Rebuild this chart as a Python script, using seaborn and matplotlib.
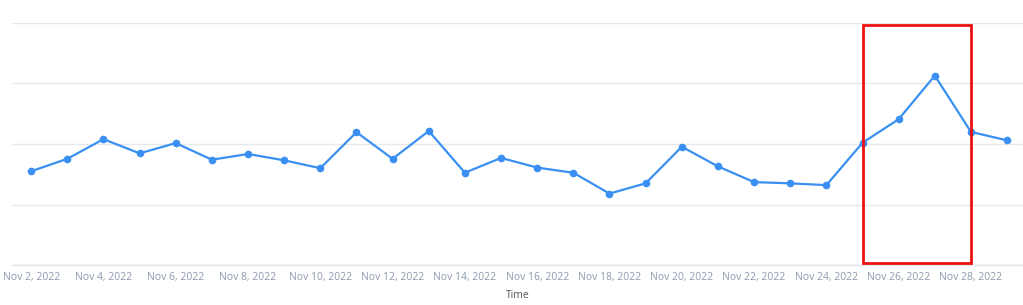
import matplotlib
matplotlib.use("Agg")
import matplotlib.pyplot as plt
import matplotlib.dates as mdates
from matplotlib.patches import Rectangle
import pandas as pd
import seaborn as sns

dates = pd.date_range("2022-11-02", "2022-11-29", freq="D")
values = [31.0, 35.1, 41.6, 36.9, 40.3, 34.8, 36.7, 34.6, 32.0, 43.9,
          35.1, 44.3, 30.5, 35.4, 32.2, 30.5, 23.6, 27.0, 39.1, 32.6,
          27.4, 27.0, 26.4, 40.4, 48.2, 62.6, 44.0, 41.2]
tick_dates = pd.date_range("2022-11-02", "2022-11-28", freq="2D")
tick_labels = [f"Nov {d.day}, 2022" for d in tick_dates]
highlight_start = pd.Timestamp("2022-11-25")
highlight_end = pd.Timestamp("2022-11-28")

df = pd.DataFrame({"Time": dates, "Value": values})

sns.set_theme(style="white")
plt.rcParams["font.family"] = ["Open Sans", "DejaVu Sans"]

fig = plt.figure(figsize=(10.23, 3.05), dpi=100)
ax = fig.add_axes([12 / 1023, 40 / 305, 1 - 12 / 1023, 242 / 305])

sns.lineplot(data=df, x="Time", y="Value", ax=ax, color="#3a90f2",
             linewidth=1.6, marker="o", markersize=5.5,
             markeredgewidth=0, markerfacecolor="#3a90f2")

ax.set_ylim(0, 80)
ax.set_yticks([0, 20, 40, 60, 80])
ax.set_yticklabels([])
ax.tick_params(axis="y", length=0)
ax.yaxis.grid(True, color="#e8e8ec", linewidth=1)
ax.xaxis.grid(False)

x0 = mdates.date2num(dates[0]) - 0.53
x1 = mdates.date2num(dates[-1]) + 0.44
ax.set_xlim(x0, x1)
ax.set_xticks(tick_dates)
ax.set_xticklabels(tick_labels)
ax.tick_params(axis="x", length=0, pad=5, labelsize=7.5, labelcolor="#8e99ad")

for s in ["top", "right", "left"]:
    ax.spines[s].set_visible(False)
ax.spines["bottom"].set_color("#e6e6ea")
ax.spines["bottom"].set_linewidth(1)

ax.set_ylabel("")
ax.set_xlabel("Time", fontsize=7.5, color="#555555", labelpad=5)

hs = mdates.date2num(highlight_start)
he = mdates.date2num(highlight_end)
rect = Rectangle((hs, 0.66), he - hs, 79.3 - 0.66, fill=False,
                 edgecolor="#ee1111", linewidth=2, zorder=5, clip_on=False)
ax.add_patch(rect)

fig.savefig("out.png", dpi=100)
